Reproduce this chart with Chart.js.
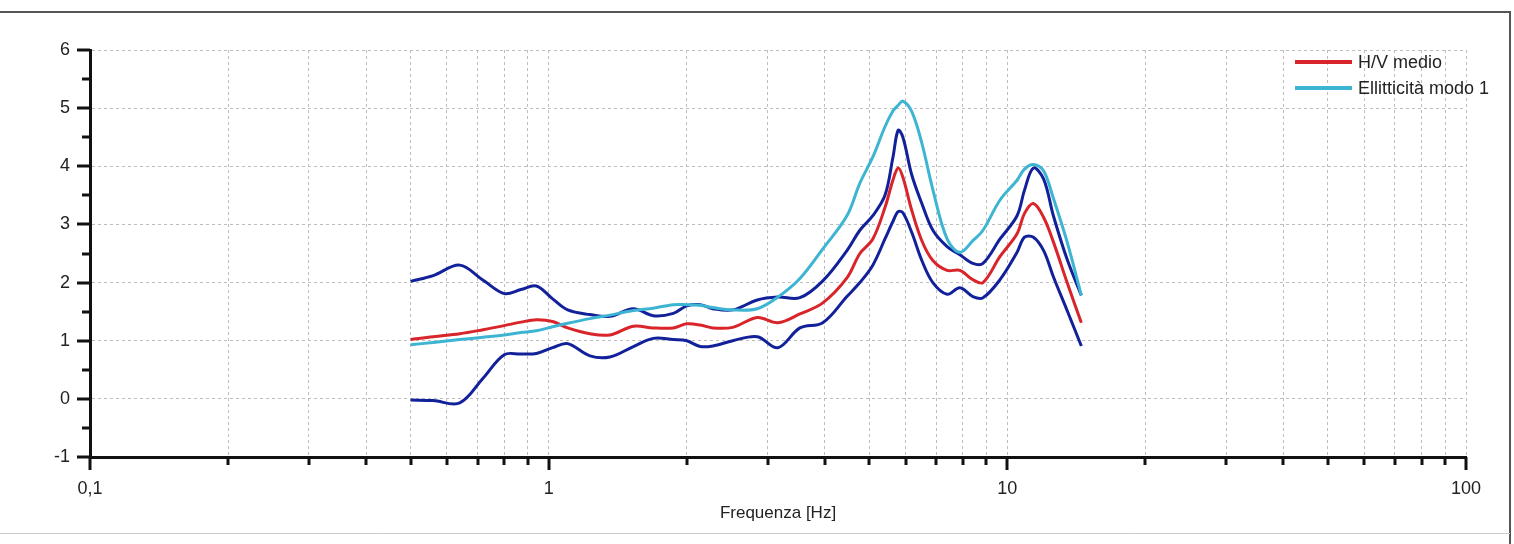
<!DOCTYPE html>
<html>
<head>
<meta charset="utf-8">
<title>H/V</title>
<script src="https://cdn.jsdelivr.net/npm/chart.js@4.4.1/dist/chart.umd.min.js"></script>
<style>
  html, body { margin: 0; padding: 0; background: #fff; }
  #wrap { width: 1514px; height: 544px; }
</style>
</head>
<body>
<div id="wrap"><canvas id="hvChart" width="1514" height="544"></canvas></div>
<script>
// ===== dati =====
const freqHz = [0.50, 0.56, 0.64, 0.72, 0.80, 0.87, 0.94, 1.02, 1.10, 1.23, 1.36, 1.53, 1.69, 1.87, 2.00,
  2.14, 2.28, 2.52, 2.85, 3.16, 3.53, 3.96, 4.47, 4.77, 5.09, 5.41, 5.63, 5.78, 5.92, 6.19, 6.51, 6.88,
  7.39, 7.88, 8.41, 8.85, 9.64, 10.5, 10.9, 11.4, 12.0, 12.6, 13.5, 14.5];

const hvMedio = [1.02, 1.07, 1.12, 1.19, 1.26, 1.32, 1.36, 1.33, 1.22, 1.12, 1.10, 1.25, 1.22, 1.22, 1.29,
  1.27, 1.22, 1.23, 1.40, 1.31, 1.46, 1.65, 2.08, 2.50, 2.75, 3.29, 3.76, 3.97, 3.81, 3.24, 2.72, 2.38,
  2.21, 2.21, 2.05, 2.00, 2.45, 2.84, 3.19, 3.36, 3.12, 2.70, 2.00, 1.31];

const hvMax = [2.02, 2.12, 2.30, 2.04, 1.81, 1.88, 1.94, 1.72, 1.53, 1.45, 1.42, 1.55, 1.43, 1.47, 1.60,
  1.62, 1.55, 1.53, 1.70, 1.75, 1.74, 2.03, 2.55, 2.90, 3.15, 3.50, 4.15, 4.62, 4.50, 3.85, 3.36, 2.90,
  2.62, 2.48, 2.33, 2.33, 2.75, 3.15, 3.59, 3.97, 3.78, 3.15, 2.40, 1.78];

const hvMin = [-0.02, -0.03, -0.07, 0.36, 0.76, 0.77, 0.78, 0.88, 0.95, 0.74, 0.72, 0.90, 1.04, 1.02, 1.00,
  0.90, 0.91, 1.00, 1.07, 0.88, 1.22, 1.31, 1.76, 2.00, 2.30, 2.75, 3.05, 3.22, 3.20, 2.86, 2.38, 2.00,
  1.80, 1.91, 1.76, 1.74, 2.05, 2.52, 2.78, 2.78, 2.55, 2.10, 1.52, 0.91];

const ellMode1 = [0.93, 0.97, 1.02, 1.06, 1.10, 1.14, 1.17, 1.24, 1.30, 1.38, 1.44, 1.52, 1.56, 1.62, 1.62,
  1.61, 1.57, 1.53, 1.55, 1.75, 2.07, 2.58, 3.15, 3.71, 4.16, 4.68, 4.95, 5.05, 5.12, 4.94, 4.40, 3.60,
  2.75, 2.52, 2.72, 2.90, 3.42, 3.76, 3.95, 4.03, 3.92, 3.45, 2.70, 1.78];

// tacche asse x (griglia a 1..9 per decade) ed etichette
const xTickValues = [0.1, 0.2, 0.3, 0.4, 0.5, 0.6, 0.7, 0.8, 0.9,
  1, 2, 3, 4, 5, 6, 7, 8, 9,
  10, 20, 30, 40, 50, 60, 70, 80, 90, 100];
const xTickLabels = { 0.1: '0,1', 1: '1', 10: '10', 100: '100' };
const yTickValues = [-1, 0, 1, 2, 3, 4, 5, 6];

const FONT = "'Liberation Sans', Arial, sans-serif";
const toPoints = arr => freqHz.map((f, i) => ({ x: f, y: arr[i] }));

// ===== cornice, tacche e legenda =====
const framePlugin = {
  id: 'frame',
  beforeDraw(chart) {
    const { ctx, width, height } = chart;
    ctx.save();
    ctx.fillStyle = '#fff';
    ctx.fillRect(0, 0, width, height);
    ctx.strokeStyle = '#555';
    ctx.lineWidth = 2;
    ctx.beginPath();
    ctx.moveTo(0, 12); ctx.lineTo(1510, 12); ctx.lineTo(1510, height);
    ctx.stroke();
    ctx.strokeStyle = '#ccc';
    ctx.lineWidth = 1;
    ctx.beginPath();
    ctx.moveTo(0, 533.5); ctx.lineTo(1510, 533.5);
    ctx.stroke();
    ctx.restore();
  },
  afterDraw(chart) {
    const { ctx, scales: { x, y } } = chart;
    ctx.save();
    ctx.strokeStyle = '#111';
    ctx.lineWidth = 3;
    // tacche asse x
    xTickValues.forEach(v => {
      const px = Math.round(x.getPixelForValue(v));
      const len = xTickLabels[v] ? 13 : 8;
      ctx.beginPath(); ctx.moveTo(px, y.bottom); ctx.lineTo(px, y.bottom + len); ctx.stroke();
    });
    // tacche asse y (intere + mezze)
    for (let v = -1; v <= 6; v += 0.5) {
      const py = Math.round(y.getPixelForValue(v));
      const len = Number.isInteger(v) ? 13 : 8;
      ctx.beginPath(); ctx.moveTo(x.left, py); ctx.lineTo(x.left - len, py); ctx.stroke();
    }
    // legenda
    let ly = 62;
    chart.data.datasets.forEach(ds => {
      if (!ds.legendText) return;
      ctx.strokeStyle = ds.borderColor;
      ctx.lineWidth = 4;
      ctx.beginPath(); ctx.moveTo(1295, ly); ctx.lineTo(1352, ly); ctx.stroke();
      ctx.fillStyle = '#222';
      ctx.font = '18px ' + FONT;
      ctx.textAlign = 'left';
      ctx.textBaseline = 'middle';
      ctx.fillText(ds.legendText, 1358, ly + 1);
      ly += 26;
    });
    ctx.restore();
  }
};

const ctxHv = document.getElementById('hvChart').getContext('2d');
new Chart(ctxHv, {
  type: 'line',
  data: {
    datasets: [
      { data: toPoints(hvMedio), borderColor: '#d9242a', legendText: 'H/V medio', order: 1 },
      { data: toPoints(ellMode1), borderColor: '#3db5d2', legendText: 'Ellitticità modo 1', order: 0 },
      { data: toPoints(hvMax), borderColor: '#12209a', order: 2 },
      { data: toPoints(hvMin), borderColor: '#12209a', order: 2 }
    ].map(ds => Object.assign({
      borderWidth: 3,
      pointRadius: 0,
      fill: false,
      tension: 0.35
    }, ds))
  },
  plugins: [framePlugin],
  options: {
    responsive: false,
    animation: false,
    layout: { padding: { left: 0, top: 50, right: 48, bottom: 0 } },
    plugins: { legend: { display: false }, tooltip: { enabled: false } },
    scales: {
      x: {
        type: 'logarithmic',
        min: 0.1,
        max: 100,
        afterBuildTicks: scale => { scale.ticks = xTickValues.map(v => ({ value: v })); },
        afterFit: scale => { scale.height = 87; },
        ticks: {
          autoSkip: false,
          maxRotation: 0,
          padding: 21,
          color: '#222',
          font: { family: FONT, size: 18 },
          callback: v => xTickLabels[v] || ''
        },
        grid: {
          drawTicks: false,
          color: c => (c.tick && c.tick.value === 0.1) ? 'rgba(0,0,0,0)' : '#bdbdbd',
          lineWidth: 1
        },
        border: { display: true, color: '#111', width: 3, dash: [3, 3] },
        title: {
          display: true,
          text: 'Frequenza [Hz]',
          color: '#222',
          font: { family: FONT, size: 17 },
          padding: { top: 0, bottom: 20 }
        }
      },
      y: {
        min: -1,
        max: 6,
        afterBuildTicks: scale => { scale.ticks = yTickValues.map(v => ({ value: v })); },
        afterFit: scale => { scale.width = 90; },
        ticks: {
          padding: 20,
          color: '#222',
          font: { family: FONT, size: 18 }
        },
        grid: {
          drawTicks: false,
          color: c => (c.tick && c.tick.value === -1) ? 'rgba(0,0,0,0)' : '#bdbdbd',
          lineWidth: 1
        },
        border: { display: true, color: '#111', width: 3, dash: [3, 3] }
      }
    }
  }
});
</script>
</body>
</html>
